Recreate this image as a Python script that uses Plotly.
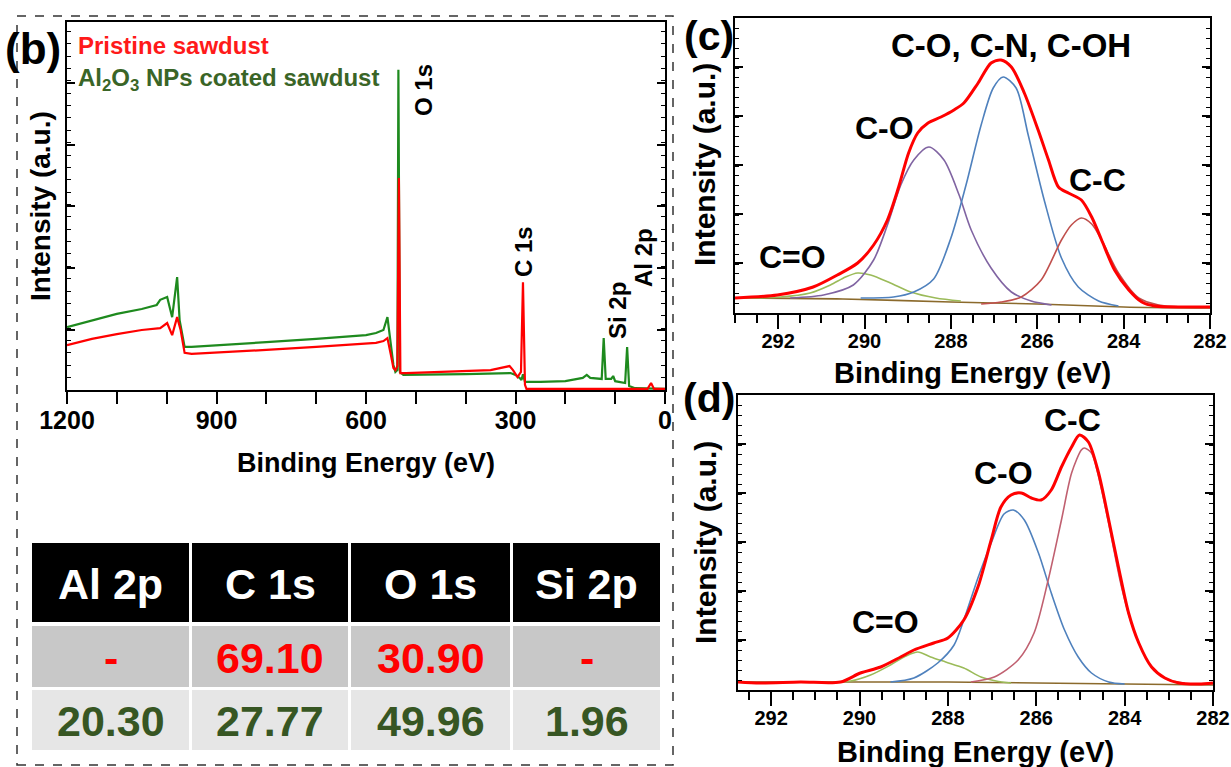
import plotly.graph_objects as go

# ---------------- data ----------------
# (b) XPS survey spectra (binding energy, intensity a.u.)
survey_be_green = [1200, 1150, 1100, 1050, 1020, 1013, 999, 989, 979, 974, 964, 950, 900, 800, 700,
                   600, 580, 565, 557, 550, 545, 541, 537, 535, 532, 525, 500, 400, 310, 300,
                   292, 288, 285, 281, 250, 200, 165, 157, 150, 127, 123, 119, 108, 104, 100,
                   80, 76, 72, 60, 30, 0]
survey_int_green = [17.1, 19.0, 20.7, 22.0, 23.1, 24.5, 25.3, 19.8, 30.7, 19.0, 11.7, 11.7, 12.2, 13.0, 13.9,
                    14.9, 15.5, 16.3, 19.8, 12.2, 6.8, 4.9, 5.4, 87.0, 4.9, 4.1, 4.1, 4.3, 4.6, 4.1,
                    3.3, 2.7, 4.3, 2.2, 2.2, 2.4, 3.3, 4.1, 3.3, 3.0, 14.1, 3.0, 3.0, 3.8, 2.4,
                    1.9, 11.7, 1.1, 0.5, 0.5, 0.3]
survey_be_red = [1200, 1150, 1100, 1050, 1013, 999, 989, 979, 972, 964, 950, 900, 800, 700, 600,
                 580, 565, 557, 550, 545, 541, 537, 534, 531, 520, 450, 350, 312, 305, 296,
                 289, 285, 281, 278, 200, 100, 35, 28, 22, 0]
survey_int_red = [12.2, 13.9, 15.2, 16.3, 16.8, 18.2, 14.9, 19.8, 16.3, 10.1, 9.8, 10.1, 10.9, 11.7, 12.5,
                  12.8, 13.3, 14.1, 9.5, 6.0, 5.4, 6.5, 57.6, 4.6, 4.6, 4.9, 5.4, 6.5, 5.4, 3.5,
                  4.9, 29.3, 1.4, 0.3, 0.3, 0.3, 0.3, 1.9, 0.3, 0.3]
survey_series = ["Pristine sawdust", "Al<sub>2</sub>O<sub>3</sub> NPs coated sawdust"]
survey_peaks = ["O 1s", "C 1s", "Si 2p", "Al 2p"]

# (c) C 1s high-resolution, pristine sawdust
c_be_data = [293.00, 292.02, 291.19, 290.63, 290.16, 289.79, 289.47, 289.21, 288.98, 288.77, 288.53, 288.23,
             287.93, 287.70, 287.37, 287.07, 286.84, 286.60, 286.30, 285.98, 285.74, 285.51, 285.28, 284.98,
             284.74, 284.51, 284.21, 283.88, 283.58, 283.28, 282.58, 282.00]
c_int_data = [15, 18, 26, 38, 50, 68, 93, 126, 160, 180, 190, 196,
              203, 210, 230, 250, 253, 246, 220, 183, 153, 126, 120, 113,
              96, 73, 43, 23, 11, 7, 6, 6]
c_be_base = [293.0, 290.5, 288.0, 286.0, 284.0, 282.0]
c_int_base = [15, 14, 11, 9, 6, 5]
c_be_co2 = [292.88, 291.95, 291.26, 290.79, 290.44, 290.16, 289.86, 289.40, 288.93, 288.35, 287.77]
c_int_co2 = [15, 16, 20, 28, 36, 40, 38, 30, 21, 15, 12]
c_be_co = [291.72, 290.95, 290.26, 289.79, 289.47, 289.16, 288.86, 288.51, 288.16, 287.81, 287.53,
           287.07, 286.60, 286.14, 285.67]
c_int_co = [15, 18, 28, 53, 88, 128, 153, 166, 153, 118, 83, 45, 21, 12, 8]
c_be_coh = [290.09, 289.33, 288.86, 288.40, 288.00, 287.65, 287.30, 287.02, 286.79, 286.49, 286.21,
            285.84, 285.44, 285.05, 284.58, 284.12]
c_int_coh = [15, 16, 21, 34, 75, 128, 188, 225, 236, 225, 178, 113, 55, 26, 12, 7]
c_be_cc = [287.30, 286.84, 286.37, 285.91, 285.44, 285.21, 284.98, 284.74, 284.51, 284.12, 283.65, 283.19, 282.65]
c_int_cc = [9, 11, 16, 33, 73, 88, 95, 89, 73, 40, 15, 8, 6]

# (d) C 1s high-resolution, Al2O3 coated sawdust
d_be_data = [292.75, 292.25, 291.34, 290.43, 289.98, 289.52, 289.07, 288.77, 288.32, 288.00, 287.64,
             287.32, 287.02, 286.80, 286.57, 286.34, 286.11, 285.89, 285.66, 285.43, 285.20, 285.02,
             284.82, 284.59, 284.36, 284.14, 283.91, 283.68, 283.39, 283.09, 282.77, 282.32, 282.00]
d_int_data = [8, 7, 8, 8, 17, 23, 33, 40, 47, 52, 70,
              103, 150, 183, 195, 197, 192, 190, 200, 223, 243, 255,
              248, 217, 170, 123, 77, 47, 23, 12, 7, 6, 7]
d_be_base = [292.75, 290.0, 288.0, 286.0, 284.0, 282.0]
d_int_base = [8, 8, 8, 7, 6, 5]
d_be_co2 = [291.0, 290.20, 289.75, 289.30, 288.95, 288.68, 288.39, 288.05, 287.64, 287.25, 286.91, 286.57]
d_int_co2 = [8, 9, 15, 25, 34, 38, 33, 28, 22, 13, 9, 7]
d_be_co = [289.30, 288.77, 288.23, 287.86, 287.64, 287.32, 287.02, 286.73, 286.52, 286.27, 285.95,
           285.66, 285.36, 285.05, 284.75, 284.36, 284.00]
d_int_co = [8, 12, 27, 45, 70, 112, 147, 176, 180, 170, 137, 97, 60, 33, 17, 8, 6]
d_be_cc = [287.48, 286.95, 286.41, 286.05, 285.73, 285.43, 285.20, 284.98, 284.91, 284.75, 284.52,
           284.30, 284.07, 283.77, 283.39, 283.00, 282.64]
d_int_cc = [8, 13, 30, 57, 110, 170, 217, 240, 242, 237, 200, 153, 103, 57, 23, 10, 7]

# table
table_header = ["Al 2p", "C 1s", "O 1s", "Si 2p"]
table_row_pristine = ["-", "69.10", "30.90", "-"]
table_row_coated = ["20.30", "27.77", "49.96", "1.96"]

# ---------------- figure ----------------
W, H = 1231, 767
def px(x):
    return x / W
def py(y):
    return 1 - y / H

FONT = "Liberation Sans, Arial, sans-serif"
RED = "#ff0000"
GREEN_LINE = "#1e8a1e"
GREEN_TXT = "#3a6527"
BASE = "#8b6a2c"
C_GREEN = "#9bbb59"
C_PURPLE = "#8064a2"
C_BLUE = "#4f81bd"
C_RED = "#c0504d"

fig = go.Figure()

# (b)
fig.add_trace(go.Scatter(x=survey_be_green, y=survey_int_green, mode="lines", name=survey_series[1],
                         line=dict(color=GREEN_LINE, width=2.2), xaxis="x", yaxis="y", showlegend=False))
fig.add_trace(go.Scatter(x=survey_be_red, y=survey_int_red, mode="lines", name=survey_series[0],
                         line=dict(color=RED, width=2.2), xaxis="x", yaxis="y", showlegend=False))

def comp(xs, ys, color, ax, ay, width=1.6):
    fig.add_trace(go.Scatter(x=xs, y=ys, mode="lines", line=dict(color=color, width=width, shape="spline", smoothing=0.8),
                             xaxis=ax, yaxis=ay, showlegend=False))

# (c)
comp(c_be_base, c_int_base, BASE, "x2", "y2", 1.6)
comp(c_be_co2, c_int_co2, C_GREEN, "x2", "y2")
comp(c_be_co, c_int_co, C_PURPLE, "x2", "y2")
comp(c_be_coh, c_int_coh, C_BLUE, "x2", "y2")
comp(c_be_cc, c_int_cc, C_RED, "x2", "y2")
comp(c_be_data, c_int_data, RED, "x2", "y2", 3)

# (d)
comp(d_be_base, d_int_base, BASE, "x3", "y3", 1.6)
comp(d_be_co2, d_int_co2, C_GREEN, "x3", "y3")
comp(d_be_co, d_int_co, C_BLUE, "x3", "y3")
comp(d_be_cc, d_int_cc, "#c06070", "x3", "y3")
comp(d_be_data, d_int_data, RED, "x3", "y3", 3)

tickfont_b = dict(family=FONT, size=25, color="black", weight="bold")
tickfont_c = dict(family=FONT, size=20, color="black", weight="bold")

def yax(domain, rng, tick0, dtick):
    return dict(domain=domain, range=rng, showticklabels=False, showgrid=False, zeroline=False,
                showline=True, linecolor="black", linewidth=2, mirror="ticks", automargin=False,
                ticks="inside", ticklen=8, tickwidth=1.5, tickcolor="black",
                tickmode="linear", tick0=tick0, dtick=dtick,
                minor=dict(ticks="inside", ticklen=4, tickwidth=1.2, tickcolor="black", dtick=dtick / 5))

def xax(domain, rng, tick0, dtick, mdtick, tickfont, tlen, mlen, standoff):
    return dict(domain=domain, range=rng, showgrid=False, zeroline=False, automargin=False,
                showline=True, linecolor="black", linewidth=2, mirror=True,
                ticks="outside", ticklen=tlen, tickwidth=2, tickcolor="black",
                tickmode="linear", tick0=tick0, dtick=dtick, tickfont=tickfont,
                ticklabelstandoff=standoff,
                minor=dict(ticks="outside", ticklen=mlen, tickwidth=2, tickcolor="black", dtick=mdtick))

fig.update_layout(
    width=W, height=H, margin=dict(l=0, r=0, t=0, b=0, pad=0, autoexpand=False), autosize=False,
    paper_bgcolor="white", plot_bgcolor="white", showlegend=False,
    xaxis=dict(anchor="y", **xax([px(67), px(665)], [1200, 0], 0, 300, 100, tickfont_b, 12, 12, -5)),
    yaxis=dict(anchor="x", **yax([py(390), py(22)], [0, 100], -0.5, 16.8)),
    xaxis2=dict(anchor="y2", **xax([px(735), px(1210)], [293, 282], 282, 2, 0.5, tickfont_c, 14, 8, -5)),
    yaxis2=dict(anchor="x2", **yax([py(313), py(18)], [0, 295], 1, 49)),
    xaxis3=dict(anchor="y3", **xax([px(738), px(1213)], [292.75, 282], 282, 2, 0.5, tickfont_c, 14, 8, -5)),
    yaxis3=dict(anchor="x3", **yax([py(690), py(395)], [0, 295], 1, 49)),
)

ann = []
def text(x, y, s, size, color="black", angle=0, xanchor="center", yanchor="middle"):
    ann.append(dict(x=px(x), y=py(y), xref="paper", yref="paper", text="<b>" + s + "</b>", showarrow=False,
                    font=dict(family=FONT, size=size, color=color), textangle=angle,
                    xanchor=xanchor, yanchor=yanchor))

# panel letters
text(33, 48, "(b)", 44)
text(709, 36, "(c)", 41)
text(709, 398, "(d)", 41)

# (b) labels
text(76, 46, survey_series[0], 24, "#ff1a1a", xanchor="left")
text(76, 79, survey_series[1], 24, GREEN_TXT, xanchor="left")
text(423, 90, survey_peaks[0], 24, angle=-90)
text(523, 252, survey_peaks[1], 24, angle=-90)
text(618, 311, survey_peaks[2], 24, angle=-90)
text(643, 258, survey_peaks[3], 24, angle=-90)
text(366, 463, "Binding Energy (eV)", 27)
text(40, 206, "Intensity (a.u.)", 28, angle=-90)

# (c) labels
text(1011, 45, "C-O, C-N, C-OH", 33)
text(884, 128, "C-O", 32)
text(792, 257, "C=O", 32)
text(1097, 180, "C-C", 32)
text(972, 373, "Binding Energy (eV)", 29)
text(705, 165, "Intensity (a.u.)", 30, angle=-90)

# (d) labels
text(1072, 420, "C-C", 32)
text(1003, 473, "C-O", 32)
text(885, 622, "C=O", 32)
text(975, 752, "Binding Energy (eV)", 29)
text(705, 543, "Intensity (a.u.)", 30, angle=-90)

# table
col_x = [(32, 189), (192, 348), (351, 510), (513, 660)]
rows = [((543, 622), "#000000", table_header, "white"),
        ((626, 687), "#c8c8c8", table_row_pristine, "#ff0000"),
        ((690, 750), "#e6e6e6", table_row_coated, "#375623")]
shapes = []
for (y0, y1), fill, vals, tcolor in rows:
    for (x0, x1), v in zip(col_x, vals):
        shapes.append(dict(type="rect", xref="paper", yref="paper", x0=px(x0), x1=px(x1), y0=py(y1), y1=py(y0),
                           fillcolor=fill, line=dict(width=0), layer="below"))
        text((x0 + x1) / 2, (y0 + y1) / 2 + 1, v, 43, tcolor)

# dashed frame around (b)
shapes.append(dict(type="rect", xref="paper", yref="paper", x0=px(17), x1=px(673), y0=py(765), y1=py(16),
                   line=dict(color="#333333", width=1.5, dash="dash"), fillcolor="rgba(0,0,0,0)"))

fig.update_layout(annotations=ann, shapes=shapes)
fig.write_html("out.html", config={"responsive": False},
               post_script="document.body.style.margin='0px';document.body.style.padding='0px';")
